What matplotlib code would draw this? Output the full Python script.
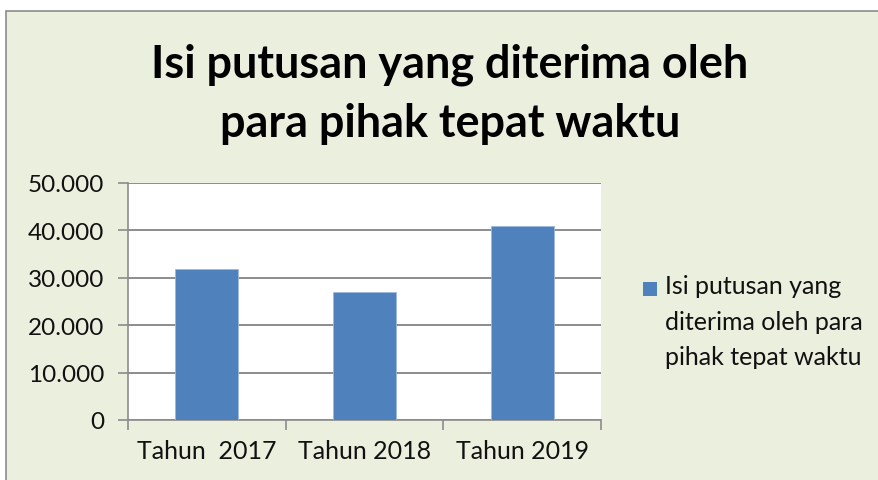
import matplotlib
matplotlib.use("Agg")
import matplotlib.pyplot as plt
from matplotlib.patches import Rectangle

categories = ["Tahun  2017", "Tahun 2018", "Tahun 2019"]
values = [31900, 27000, 41000]
series_name = "Isi putusan yang\nditerima oleh para\npihak tepat waktu"
title = "Isi putusan yang diterima oleh\npara pihak tepat waktu"
yticks = [0, 10000, 20000, 30000, 40000, 50000]
ytick_labels = ["0", "10.000", "20.000", "30.000", "40.000", "50.000"]

W, H = 879, 481
bar_color = "#4F81BD"
fig = plt.figure(figsize=(W / 100, H / 100), dpi=100)
fig.patch.set_facecolor("white")
plt.rcParams["font.family"] = ["Lato", "DejaVu Sans"]

bg = "#EBEFDE"
frame = Rectangle((6 / W, -0.05), 1.1, 1 - 12 / H + 0.05,
                  transform=fig.transFigure, facecolor=bg,
                  edgecolor="#8C8C8C", linewidth=1.2, zorder=-10)
fig.patches.append(frame)

ax = fig.add_axes([128 / W, 1 - 421 / H, (601 - 128) / W, (421 - 184) / H])
ax.set_zorder(1)
ax.set_facecolor("white")
x = list(range(len(categories)))
ax.bar(x, values, width=0.4, color=bar_color, edgecolor="#9DB9DD",
       linewidth=0.6, zorder=3, label=series_name)
ax.set_xlim(-0.5, len(categories) - 0.5)
ax.set_ylim(0, 50000)
ax.set_yticks(yticks)
ax.set_yticklabels(ytick_labels, fontsize=17.5, color="#111111")
ax.yaxis.grid(True, color="#8C8C8C", linewidth=1.4, zorder=0)
ax.set_xticks(x)
ax.set_xticklabels(categories, fontsize=18, color="#111111")
ax.tick_params(axis="x", length=0, pad=14)
ax.tick_params(axis="y", length=7, width=1.2, color="#8C8C8C", pad=10)
ax.set_xticks([-0.5, 0.5, 1.5, 2.5], minor=True)
ax.tick_params(axis="x", which="minor", length=7, width=1.2, color="#8C8C8C")
for s in ["top", "right"]:
    ax.spines[s].set_visible(False)
ax.spines["left"].set_color("#8C8C8C")
ax.spines["left"].set_linewidth(1.2)
ax.spines["bottom"].set_color("#8C8C8C")
ax.spines["bottom"].set_linewidth(1.2)

fig.text(450 / W, 1 - 137 / H, title, ha="center", va="baseline",
         fontsize=32.4, fontweight="bold", linespacing=1.51, color="#000000")

# legend key and label
fig.patches.append(Rectangle((643 / W, 1 - 297 / H), 14 / W, 14 / H,
                             transform=fig.transFigure, facecolor=bar_color,
                             edgecolor="none", zorder=2))
fig.text(665 / W, 1 - 365 / H, series_name, ha="left", va="baseline",
         fontsize=18, linespacing=1.65, color="#111111")

fig.savefig("out.png", dpi=100, facecolor=fig.get_facecolor())
